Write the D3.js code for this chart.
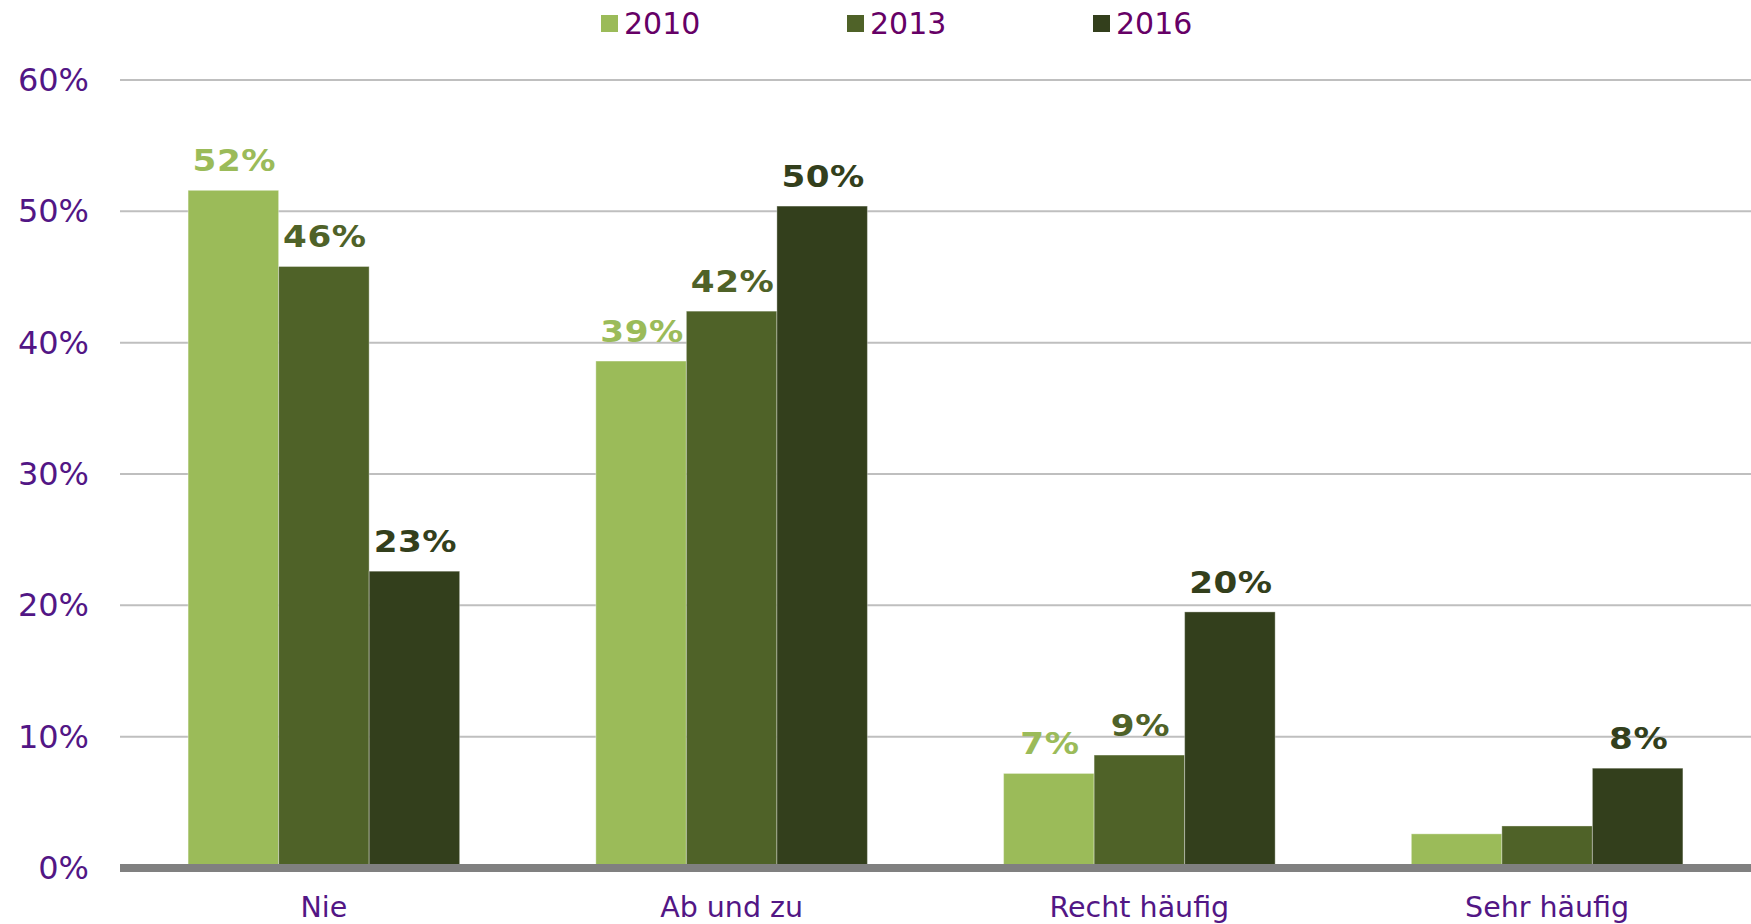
<!DOCTYPE html>
<html>
<head>
<meta charset="utf-8">
<script src="https://cdn.jsdelivr.net/npm/d3@7"></script>
<style>
  html, body { margin: 0; padding: 0; background: #fff; }
  svg { display: block; font-family: "DejaVu Sans", Verdana, sans-serif; }
</style>
</head>
<body>
<svg id="chart" width="1751" height="924"></svg>
<script>
// Categories along the x axis
const categories = ["Nie", "Ab und zu", "Recht häufig", "Sehr häufig"];
// Survey years (one bar per year within each category)
const years = ["2010", "2013", "2016"];
// Share of respondents, percent
const values2010 = [51.6, 38.6, 7.2, 2.6];
const values2013 = [45.8, 42.4, 8.6, 3.2];
const values2016 = [22.6, 50.4, 19.5, 7.6];
// Whether a value label is printed above each bar
const showLabel2010 = [true, true, true, false];
const showLabel2013 = [true, true, true, false];
const showLabel2016 = [true, true, true, true];
// Y axis ticks
const yTicks = [0, 10, 20, 30, 40, 50, 60];

const colors = ["#9BBB59", "#4F6228", "#333F1C"];
const seriesValues = [values2010, values2013, values2016];
const seriesShow = [showLabel2010, showLabel2013, showLabel2016];

const svg = d3.select("#chart");

const x0 = d3.scaleBand()
  .domain(categories)
  .range([120, 1751])
  .paddingInner(0.334)
  .paddingOuter(0.167);

const x1 = d3.scaleBand()
  .domain(years)
  .range([0, x0.bandwidth()])
  .padding(0);

const y = d3.scaleLinear().domain([0, 60]).range([868, 80]);

// Horizontal gridlines
svg.append("g")
  .selectAll("line")
  .data(yTicks.filter(d => d > 0))
  .join("line")
  .attr("x1", 120).attr("x2", 1751)
  .attr("y1", d => y(d)).attr("y2", d => y(d))
  .attr("stroke", "#BFBFBF").attr("stroke-width", 2);

// Y tick labels
svg.append("g")
  .selectAll("text")
  .data(yTicks)
  .join("text")
  .attr("x", 89).attr("y", d => y(d))
  .attr("text-anchor", "end")
  .attr("dominant-baseline", "central")
  .attr("fill", "#521685")
  .attr("font-size", 32)
  .text(d => d + "%");

// Bars
const rows = [];
categories.forEach((c, i) => {
  years.forEach((yr, s) => {
    rows.push({ cat: c, year: yr, s, v: seriesValues[s][i], show: seriesShow[s][i] });
  });
});

const barG = svg.append("g");
barG.selectAll("rect")
  .data(rows)
  .join("rect")
  .attr("x", d => x0(d.cat) + x1(d.year))
  .attr("y", d => y(d.v))
  .attr("width", x1.bandwidth())
  .attr("height", d => y(0) - y(d.v))
  .attr("fill", d => colors[d.s])
  .attr("stroke", "rgba(255,255,255,0.35)")
  .attr("stroke-width", 1);

// Value labels
svg.append("g")
  .selectAll("text")
  .data(rows.filter(d => d.show))
  .join("text")
  .attr("transform", d => `translate(${x0(d.cat) + x1(d.year) + x1.bandwidth() / 2 + 1},${y(d.v) - 19}) scale(1.14,1)`)
  .attr("text-anchor", "middle")
  .attr("font-size", 30)
  .attr("font-weight", "bold")
  .attr("letter-spacing", 0.5)
  .attr("fill", d => colors[d.s])
  .text(d => Math.round(d.v) + "%");

// Baseline axis
svg.append("line")
  .attr("x1", 120).attr("x2", 1751)
  .attr("y1", y(0)).attr("y2", y(0))
  .attr("stroke", "#808080").attr("stroke-width", 8);

// Category labels
svg.append("g")
  .selectAll("text")
  .data(categories)
  .join("text")
  .attr("x", d => x0(d) + x0.bandwidth() / 2)
  .attr("y", 917)
  .attr("text-anchor", "middle")
  .attr("fill", "#521685")
  .attr("font-size", 28.5)
  .text(d => d);

// Legend
const legend = svg.append("g");
const legendX = [601, 847, 1093];
years.forEach((yr, s) => {
  legend.append("rect")
    .attr("x", legendX[s]).attr("y", 15)
    .attr("width", 17).attr("height", 17)
    .attr("fill", colors[s]);
  legend.append("text")
    .attr("x", legendX[s] + 23).attr("y", 33.5)
    .attr("fill", "#660066")
    .attr("font-size", 30)
    .text(yr);
});
</script>
</body>
</html>
